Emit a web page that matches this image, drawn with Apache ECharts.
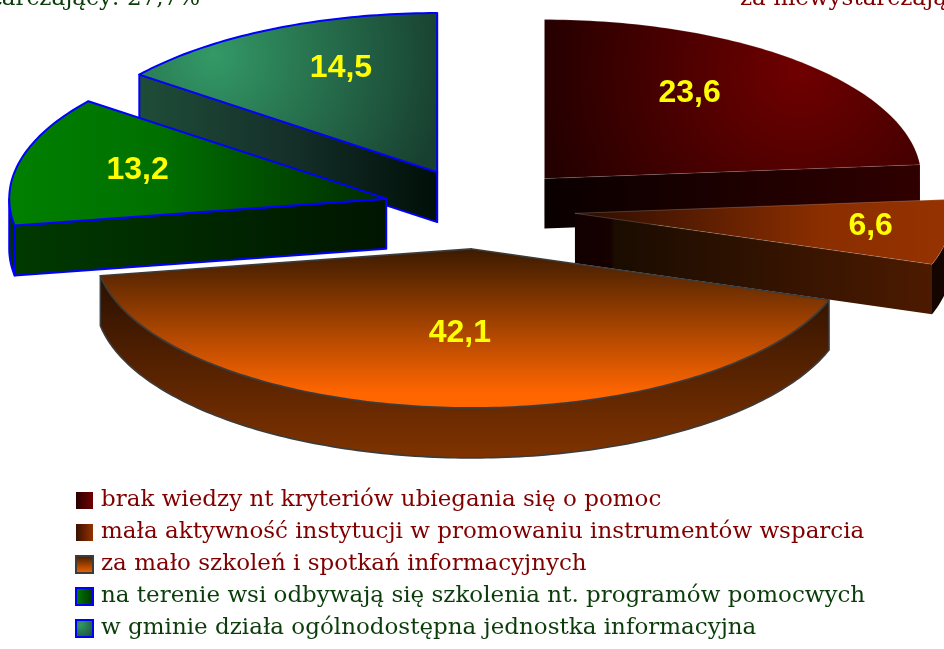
<!DOCTYPE html>
<html>
<head>
<meta charset="utf-8">
<style>
  html, body { margin: 0; padding: 0; background: #fff; }
  #main { width: 944px; height: 649px; }
</style>
<script src="https://cdn.jsdelivr.net/npm/echarts@6/dist/echarts.min.js"></script>
</head>
<body>
<div id="main"></div>
<script>
var categories = [
  'brak wiedzy nt kryteriów ubiegania się o pomoc',
  'mała aktywność instytucji w promowaniu instrumentów wsparcia',
  'za mało szkoleń i spotkań informacyjnych',
  'na terenie wsi odbywają się szkolenia nt. programów pomocwych',
  'w gminie działa ogólnodostępna jednostka informacyjna'
];
var values = [23.6, 6.6, 42.1, 13.2, 14.5];
var topLeftText = 'wystarczający: 27,7%';
var topRightText = 'za niewystarczający: 72,3%';

// pie projection (clock angles, tilted ellipse)
var cx = 479.5, cy = 208.5, rx = 377, ry = 159, depth = 50, explode = 0.255;
var total = values.reduce(function (a, b) { return a + b; }, 0);
var paintOrder = [3, 2, 0, 1, 4]; // z of each slice would be: back ones first
var sliceZ = [3, 4, 5, 2, 1];
var labelPos = [[0.57, 0.73], [0.79, 0.68], [0.41, 0.53], [0.68, 0.75], [0.58, 0.73]];

function lin(x2, y2, stops) {
  return new echarts.graphic.LinearGradient(0, 0, x2, y2, stops.map(function (s) {
    return { offset: s[0], color: s[1] };
  }));
}
function rad(x, y, r, stops) {
  return new echarts.graphic.RadialGradient(x, y, r, stops.map(function (s) {
    return { offset: s[0], color: s[1] };
  }));
}

var topFill = [
  rad(0.68, 0.32, 1.65, [[0, '#700000'], [1, '#240000']]),
  lin(1, 0, [[0, '#2a0c00'], [0.65, '#8a2e00'], [1, '#963200']]),
  lin(0, 1, [[0, '#3a1a00'], [0.9, '#ff6600'], [1, '#ff6600']]),
  lin(1, 0, [[0, '#008000'], [0.4, '#007000'], [1, '#002a00']]),
  rad(0.25, 0.27, 1.45, [[0, '#339966'], [1, '#184030']])
];
var sideFill = [
  lin(1, 0, [[0, '#0a0000'], [1, '#300000']]),
  lin(1, 0, [[0, '#120000'], [0.1, '#160000'], [0.11, '#1a0c00'], [1, '#4c1a00']]),
  lin(0, 1, [[0, '#2a1000'], [1, '#803300']]),
  lin(1, 0, [[0, '#003a00'], [1, '#001500']]),
  lin(1, 0, [[0, '#1f4d38'], [0.5, '#15302a'], [1, '#000f08']])
];
var strokes = ['rgba(255,255,255,0.25)', 'rgba(255,255,255,0.3)', '#3c3c3c', '#0000ff', '#0000ff'];
var strokeWidths = [0.6, 0.6, 1.6, 2, 2];
var legendIcons = [
  lin(1, 0, [[0, '#2a0000'], [1, '#700000']]),
  lin(1, 0, [[0, '#3a1000'], [1, '#963200']]),
  lin(0, 1, [[0, '#3a1a00'], [1, '#ff6600']]),
  lin(1, 0, [[0, '#008000'], [1, '#003000']]),
  rad(0.3, 0.3, 1, [[0, '#339966'], [1, '#184030']])
];
var legendBorders = [null, null, '#3c3c3c', '#0000ff', '#0000ff'];
var legendText = ['#800000', '#800000', '#800000', '#0b3d0b', '#0b3d0b'];

function startAngle(i) {
  var sum = 0;
  for (var k = 0; k < i; k++) { sum += values[k]; }
  return sum / total * 360;
}

function renderSlice(i) {
  return function (params, api) {
    var a0 = startAngle(i);
    var a1 = a0 + api.value(0) / total * 360;
    var mid = (a0 + a1) / 2 * Math.PI / 180;
    var ax = cx + explode * rx * Math.sin(mid);
    var ay = cy - explode * ry * Math.cos(mid);
    function rim(deg, drop) {
      var t = deg * Math.PI / 180;
      return [ax + rx * Math.sin(t), ay - ry * Math.cos(t) + (drop || 0)];
    }
    function wall(pts, fill) {
      return {
        type: 'polygon',
        shape: { points: pts },
        style: { fill: fill, stroke: i > 1 ? strokes[i] : null, lineWidth: strokeWidths[i], lineJoin: 'round' }
      };
    }
    var children = [];
    var fs = Math.sin(a0 * Math.PI / 180), fe = Math.sin(a1 * Math.PI / 180);
    // cut faces that look at the viewer
    if (fs < -0.01) {
      children.push(wall([[ax, ay], rim(a0), rim(a0, depth), [ax, ay + depth]], sideFill[i]));
    }
    if (fe > 0.01) {
      children.push(wall([[ax, ay], rim(a1), rim(a1, depth), [ax, ay + depth]], sideFill[i]));
    }
    // outer wall, front half only
    var w0 = Math.max(a0, 90), w1 = Math.min(a1, 270);
    if (w1 > w0) {
      var up = [], down = [];
      for (var d = w0; d < w1; d += 1) {
        up.push(rim(d));
        down.unshift(rim(d, depth));
      }
      up.push(rim(w1));
      down.unshift(rim(w1, depth));
      var fill = i === 2 ? sideFill[i] : (i === 1 ? '#140500' : '#003000');
      children.push(wall(up.concat(down), fill));
    }
    // top face
    var face = [[ax, ay]];
    for (var f = a0; f < a1; f += 1) { face.push(rim(f)); }
    face.push(rim(a1));
    children.push({
      type: 'polygon',
      shape: { points: face },
      style: { fill: topFill[i], stroke: strokes[i], lineWidth: strokeWidths[i], lineJoin: 'round' }
    });
    children.push({
      type: 'text',
      z2: 10,
      x: ax + labelPos[i][0] * rx * Math.sin(mid),
      y: ay - labelPos[i][1] * ry * Math.cos(mid),
      style: {
        text: String(api.value(0)).replace('.', ','),
        fill: '#ffff00',
        font: 'bold 32px "Liberation Sans", Arial, sans-serif',
        align: 'center',
        verticalAlign: 'middle'
      }
    });
    return { type: 'group', children: children };
  };
}

var chart = echarts.init(document.getElementById('main'));
var series = [];
for (var i = 0; i < values.length; i++) {
  series.push({
    name: categories[i],
    type: 'custom',
    coordinateSystem: 'none',
    clip: false,
    silent: true,
    z: sliceZ[i],
    itemStyle: { color: '#800000' },
    data: [[values[i]]],
    renderItem: renderSlice(i)
  });
}

chart.setOption({
  animation: false,
  backgroundColor: '#ffffff',
  title: [
    {
      text: topLeftText, left: 195, top: -17, textAlign: 'right',
      textStyle: { color: '#0b3d0b', fontFamily: 'DejaVu Serif', fontSize: 23, fontWeight: 'normal' }
    },
    {
      text: topRightText, left: 735, top: -17,
      textStyle: { color: '#800000', fontFamily: 'DejaVu Serif', fontSize: 23, fontWeight: 'normal' }
    }
  ],
  legend: {
    orient: 'vertical',
    left: 70,
    top: 484,
    itemWidth: 17,
    itemHeight: 17,
    itemGap: 9,
    selectedMode: false,
    icon: 'rect',
    data: categories.map(function (name, k) {
      return {
        name: name,
        itemStyle: { color: legendIcons[k], borderColor: legendBorders[k], borderWidth: legendBorders[k] ? 2 : 0 },
        textStyle: { color: legendText[k], fontFamily: 'DejaVu Serif', fontSize: 23, padding: [0, 0, 0, 3] }
      };
    })
  },
  series: series
});
</script>
</body>
</html>
